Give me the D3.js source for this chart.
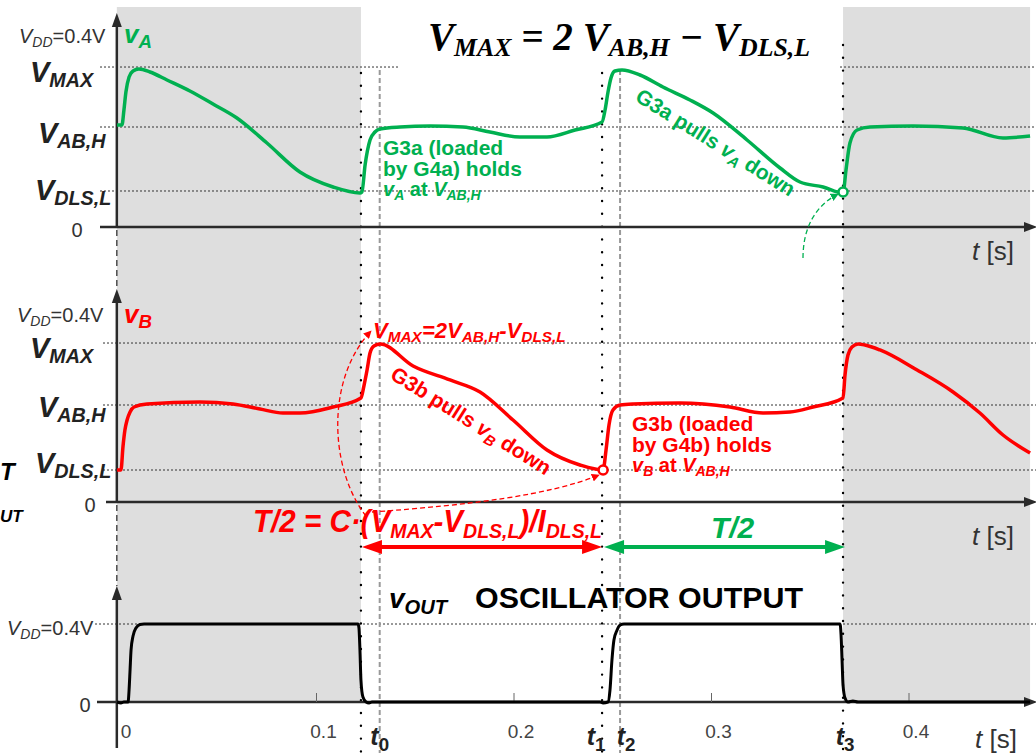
<!DOCTYPE html>
<html>
<head>
<meta charset="utf-8">
<script src="https://cdn.jsdelivr.net/npm/d3@7"></script>
<style>
  html, body { margin: 0; padding: 0; background: #fff; overflow: hidden; }
  svg { display: block; }
</style>
</head>
<body>
<svg id="chart" width="1036" height="753"></svg>
<script>
// time axis (s)
const xTicks = [0.1, 0.2, 0.3, 0.4];
const xTickLabels = ['0', '0.1', '0.2', '0.3', '0.4'];
const xTickValues = [0, 0.1, 0.2, 0.3, 0.4];

// switching instants and marked instants
const tSwitch = [0.1225, 0.2446, 0.3666];
const tMarks = [0.132, 0.2537];
const tNames = ['0', '1', '2', '3'];
const tNamed = [0.132, 0.2446, 0.2537, 0.3666];
const shaded = [[-0.0011, 0.1225], [0.3666, 0.4613]];

// voltage levels (V)
const vdd = 0.4;
const levelNames = ['MAX', 'AB,H', 'DLS,L'];
const levelsA = [0.3368, 0.2105, 0.0758];
const levelsB = [0.3419, 0.2086, 0.0688];

// v_A waveform
const tA = [-0.001, 0.0015, 0.0025, 0.0035, 0.0051, 0.0071, 0.0101, 0.0157, 0.0243, 0.0359,
  0.0476, 0.0597, 0.0749, 0.0916, 0.1084, 0.122, 0.123, 0.1246, 0.1271, 0.1296,
  0.1322, 0.1423, 0.1575, 0.1742, 0.1878, 0.203, 0.2167, 0.2309, 0.2446, 0.2461,
  0.2476, 0.2491, 0.2511, 0.2547, 0.2638, 0.2754, 0.2891, 0.3008, 0.318, 0.3347,
  0.3448, 0.3565, 0.3666, 0.3681, 0.3701, 0.3737, 0.3803, 0.402, 0.4273, 0.4476, 0.4613];
const vA = [0.2147, 0.2147, 0.2463, 0.2842, 0.3158, 0.3284, 0.3326, 0.3263, 0.3095, 0.2863,
  0.2589, 0.2295, 0.1768, 0.1158, 0.0842, 0.0716, 0.0737, 0.1305, 0.1832, 0.2,
  0.2063, 0.2105, 0.2126, 0.2105, 0.2, 0.1895, 0.1895, 0.2042, 0.2211, 0.2463,
  0.2842, 0.3137, 0.3284, 0.3305, 0.32, 0.2947, 0.2674, 0.24, 0.1832, 0.1242,
  0.0947, 0.0842, 0.0716, 0.12, 0.1768, 0.2042, 0.2105, 0.2126, 0.2084, 0.1874, 0.1916];

// v_B waveform
const tB = [-0.001, 0.001, 0.002, 0.003, 0.0041, 0.0056, 0.0076, 0.0142, 0.041, 0.0577,
  0.0714, 0.083, 0.0916, 0.1084, 0.1225, 0.1241, 0.1256, 0.1271, 0.1291, 0.1322,
  0.1489, 0.1676, 0.1828, 0.1995, 0.2167, 0.2334, 0.2451, 0.2466, 0.2481, 0.2501,
  0.2537, 0.2603, 0.284, 0.3094, 0.3261, 0.3397, 0.3514, 0.3666, 0.3676, 0.3691,
  0.3711, 0.3742, 0.3777, 0.3853, 0.4041, 0.4223, 0.4359, 0.4476, 0.4613];
const vB = [0.0688, 0.0688, 0.1183, 0.1548, 0.1763, 0.1935, 0.2043, 0.2108, 0.2151, 0.2108,
  0.2, 0.1914, 0.1914, 0.2043, 0.2237, 0.2516, 0.2839, 0.3204, 0.3355, 0.3398,
  0.2925, 0.2624, 0.2366, 0.1763, 0.1118, 0.0796, 0.0688, 0.1118, 0.1656, 0.1978,
  0.2086, 0.2108, 0.2129, 0.2043, 0.1914, 0.1935, 0.2043, 0.2237, 0.2731, 0.3161,
  0.3333, 0.3398, 0.3376, 0.3269, 0.2839, 0.2366, 0.1914, 0.1441, 0.1054];

// v_OUT waveform
const tOut = [-0.001, 0.001, 0.0025, 0.0046, 0.0051, 0.0056, 0.0061, 0.0071, 0.0086, 0.0106,
  0.0127, 0.121, 0.1215, 0.122, 0.1225, 0.1235, 0.1251, 0.1266, 0.1281, 0.2435,
  0.2451, 0.2476, 0.2486, 0.2496, 0.2506, 0.2522, 0.2537, 0.2557, 0.3651, 0.3656,
  0.3661, 0.3666, 0.3676, 0.3691, 0.3716, 0.3742, 0.4613];
const vOut = [0, -0.005, 0, 0, 0.0615, 0.1641, 0.2667, 0.3385, 0.3795, 0.3974,
  0.4, 0.4, 0.3795, 0.2667, 0.1128, 0.0256, 0, -0.005, 0, 0,
  -0.005, 0, 0.0615, 0.2154, 0.3179, 0.3692, 0.3949, 0.4, 0.4, 0.3436,
  0.2154, 0.0872, 0.0205, 0, 0.005, 0, 0];

const SANS = "'Liberation Sans', Arial, sans-serif";
const SERIF = "'Liberation Serif', 'Times New Roman', serif";
const GREEN = '#00b050', RED = '#ff0000', AXIS = '#2a2a2a', LABEL = '#333';

const svg = d3.select('#chart');
const x = d3.scaleLinear().domain([0, 0.4]).range([119, 909]);
const yA = d3.scaleLinear().domain([0, 0.4]).range([227, 37]);
const yB = d3.scaleLinear().domain([0, 0.4]).range([502, 316]);
const yC = d3.scaleLinear().domain([0, 0.4]).range([702, 624]);

// text with subscripts: parts = [[text, flags]], flags: s=sub, i=italic, n=upright, r=regular weight
function rich(parent, px, py, parts, o) {
  const t = parent.append('text')
    .attr('x', px).attr('y', py)
    .attr('font-family', o.font || SANS)
    .attr('font-size', o.size)
    .attr('font-weight', o.weight || 'bold')
    .attr('font-style', o.italic ? 'italic' : 'normal')
    .attr('fill', o.color || '#000')
    .attr('text-anchor', o.anchor || 'start');
  if (o.rotate) t.attr('transform', `rotate(${o.rotate},${px},${py})`);
  if (o.len) t.attr('textLength', o.len).attr('lengthAdjust', 'spacingAndGlyphs');
  let shift = 0;
  parts.forEach(p => {
    const f = p[1] || '';
    const sub = f.includes('s');
    const target = sub ? o.size * (o.subDy || 0.2) : 0;
    const sp = t.append('tspan').text(p[0]).attr('dy', target - shift);
    shift = target;
    if (sub) sp.attr('font-size', o.size * (o.subScale || 0.68));
    if (f.includes('i')) sp.attr('font-style', 'italic');
    if (f.includes('n')) sp.attr('font-style', 'normal');
    if (f.includes('r')) sp.attr('font-weight', 'normal');
  });
  return t;
}

// shaded half periods
svg.append('g').selectAll('rect')
  .data(shaded)
  .enter()
  .append('rect')
  .attr('x', d => x(d[0]))
  .attr('width', d => x(d[1]) - x(d[0]))
  .attr('y', 7)
  .attr('height', yC(0) - 7)
  .attr('fill', '#dedede');

// markers
const defs = svg.append('defs');
[['headG', GREEN], ['headR', RED]].forEach(([id, c]) => {
  defs.append('marker').attr('id', id)
    .attr('viewBox', '0 0 10 10').attr('refX', 9).attr('refY', 5)
    .attr('markerWidth', 8).attr('markerHeight', 8)
    .attr('markerUnits', 'userSpaceOnUse')
    .attr('orient', 'auto')
    .append('path').attr('d', 'M0,0 L10,5 L0,10 Z').attr('fill', c);
});

// horizontal level guides
const guides = svg.append('g')
  .attr('stroke', '#333').attr('stroke-width', 1).attr('stroke-dasharray', '2,2');
levelsA.forEach((v, i) => {
  const segs = i === 0 ? [[100, 400], [840, 1036]] : [[100, 1036]];
  segs.forEach(s => guides.append('line')
    .attr('x1', s[0]).attr('x2', s[1]).attr('y1', yA(v)).attr('y2', yA(v)));
});
levelsB.forEach(v => guides.append('line')
  .attr('x1', 103).attr('x2', 1036).attr('y1', yB(v)).attr('y2', yB(v)));
guides.append('line')
  .attr('x1', 95).attr('x2', 1036).attr('y1', yC(vdd)).attr('y2', yC(vdd));

// vertical time markers
svg.append('g').selectAll('line')
  .data(tSwitch)
  .enter()
  .append('line')
  .attr('x1', d => x(d)).attr('x2', d => x(d))
  .attr('y1', (d, i) => i === 2 ? 45 : 73).attr('y2', 753)
  .attr('stroke', '#000').attr('stroke-width', 2.4)
  .attr('stroke-linecap', 'round').attr('stroke-dasharray', '0,12.8');

svg.append('g').selectAll('line')
  .data(tMarks)
  .enter()
  .append('line')
  .attr('x1', d => x(d)).attr('x2', d => x(d))
  .attr('y1', 70).attr('y2', 753)
  .attr('stroke', '#999').attr('stroke-width', 2)
  .attr('stroke-dasharray', '5,3');

// axes
function xAxisLine(y0, x0) {
  svg.append('line').attr('x1', x0).attr('x2', 1028).attr('y1', y0).attr('y2', y0)
    .attr('stroke', AXIS).attr('stroke-width', 2.5);
  svg.append('path').attr('d', `M1037,${y0} L1024,${y0 - 5} L1024,${y0 + 5} Z`).attr('fill', AXIS);
}
function yAxisLine(top, bottom) {
  const ax = x(-0.0011);
  svg.append('line').attr('x1', ax).attr('x2', ax).attr('y1', top + 10).attr('y2', bottom)
    .attr('stroke', AXIS).attr('stroke-width', 2.5);
  svg.append('path').attr('d', `M${ax},${top} L${ax - 5},${top + 14} L${ax + 5},${top + 14} Z`).attr('fill', AXIS);
}
function dashLink(top, bottom) {
  const ax = x(-0.0011);
  svg.append('line').attr('x1', ax).attr('x2', ax).attr('y1', top).attr('y2', bottom)
    .attr('stroke', '#333').attr('stroke-width', 1.3).attr('stroke-dasharray', '6,4');
}
yAxisLine(13, yA(0));
dashLink(yA(0) + 3, 289);
yAxisLine(289, yB(0));
dashLink(yB(0) + 3, 586);
yAxisLine(586, 748);
xAxisLine(yA(0), 100);
xAxisLine(yB(0), 106);
xAxisLine(yC(0), 97);

// x ticks on the output panel
svg.append('g').selectAll('line')
  .data(xTicks)
  .enter()
  .append('line')
  .attr('x1', d => x(d)).attr('x2', d => x(d))
  .attr('y1', yC(0)).attr('y2', yC(0) - 9)
  .attr('stroke', '#666').attr('stroke-width', 1);

svg.append('g').selectAll('text')
  .data(xTickValues)
  .enter()
  .append('text')
  .attr('x', d => x(d) + 7)
  .attr('y', 738)
  .attr('text-anchor', 'middle')
  .attr('font-family', SANS).attr('font-size', 19).attr('fill', '#444')
  .text((d, i) => xTickLabels[i]);

// waveforms
const lineA = d3.line().x(d => x(d[0])).y(d => yA(d[1])).curve(d3.curveMonotoneX);
const lineB = d3.line().x(d => x(d[0])).y(d => yB(d[1])).curve(d3.curveMonotoneX);
const lineC = d3.line().x(d => x(d[0])).y(d => yC(d[1])).curve(d3.curveMonotoneX);

svg.append('path').datum(d3.zip(tA, vA)).attr('d', lineA)
  .attr('fill', 'none').attr('stroke', GREEN).attr('stroke-width', 3.5).attr('stroke-linejoin', 'round');
svg.append('path').datum(d3.zip(tB, vB)).attr('d', lineB)
  .attr('fill', 'none').attr('stroke', RED).attr('stroke-width', 3.5).attr('stroke-linejoin', 'round');
svg.append('path').datum(d3.zip(tOut, vOut)).attr('d', lineC)
  .attr('fill', 'none').attr('stroke', '#000').attr('stroke-width', 3).attr('stroke-linejoin', 'round');

// y labels
const levelOffA = [15, 16, 9];
const levelOffB = [15, 12, 3];
const levelX = [30, 38, 35];
levelNames.forEach((n, i) => {
  rich(svg, levelX[i], yA(levelsA[i]) + levelOffA[i], [['V'], [n, 's']],
    { size: 29, italic: true, color: '#222', subScale: 0.68, subDy: 0.16 });
  rich(svg, levelX[i], yB(levelsB[i]) + levelOffB[i], [['V'], [n, 's']],
    { size: 29, italic: true, color: '#222', subScale: 0.68, subDy: 0.16 });
});
const vddParts = [['V', 'i'], ['DD', 'is'], ['=0.4V']];
rich(svg, 19, 43, vddParts, { size: 20, weight: 'normal', color: LABEL, subScale: 0.7, subDy: 0.22 });
rich(svg, 17, 322, vddParts, { size: 20, weight: 'normal', color: LABEL, subScale: 0.7, subDy: 0.22 });
rich(svg, 7, 635, vddParts, { size: 20, weight: 'normal', color: LABEL, subScale: 0.7, subDy: 0.22 });
[[77, 237], [90, 512], [85, 712]].forEach(p => svg.append('text')
  .attr('x', p[0]).attr('y', p[1]).attr('text-anchor', 'middle')
  .attr('font-family', SANS).attr('font-size', 20).attr('fill', LABEL).text('0'));

// t [s]
[[972, 260], [972, 545], [975, 748]].forEach(p =>
  rich(svg, p[0], p[1], [['t', 'i'], [' [s]']], { size: 26, weight: 'normal', color: LABEL }));

// t0..t3
tNamed.forEach((t, i) => {
  const off = [0, -6, 6, 2][i];
  rich(svg, x(t) + off, 745, [['t'], [tNames[i], 'ns']],
    { size: 25, italic: true, color: '#222', anchor: 'middle', subScale: 0.75, subDy: 0.22 });
});

// signal names
rich(svg, 124, 43, [['v'], ['A', 's']], { size: 26, italic: true, color: GREEN, subScale: 0.72, subDy: 0.2 });
rich(svg, 124, 323, [['v'], ['B', 's']], { size: 26, italic: true, color: RED, subScale: 0.72, subDy: 0.2 });
rich(svg, 389, 608, [['v'], ['OUT', 's']], { size: 28, italic: true, color: '#000', subScale: 0.72, subDy: 0.2 });
svg.append('text').attr('x', 475).attr('y', 608)
  .attr('font-family', SANS).attr('font-size', 29).attr('font-weight', 'bold')
  .attr('textLength', 328).attr('lengthAdjust', 'spacingAndGlyphs').text('OSCILLATOR OUTPUT');

// fragments at the left edge
svg.append('text').attr('x', 0).attr('y', 480).attr('font-family', SANS).attr('font-size', 24)
  .attr('font-weight', 'bold').attr('font-style', 'italic').text('T');
svg.append('text').attr('x', 0).attr('y', 522).attr('font-family', SANS).attr('font-size', 17)
  .attr('font-weight', 'bold').attr('font-style', 'italic').text('UT');

// title equation
rich(svg, 428, 50, [['V'], ['MAX', 's'], [' = 2 '], ['V'], ['AB,H', 's'], [' \u2212 '], ['V'], ['DLS,L', 's']],
  { size: 39, italic: true, font: SERIF, color: '#000', subScale: 0.66, subDy: 0.16, len: 382 });

// green annotations
rich(svg, 383, 155, [['G3a (loaded']], { size: 21, color: GREEN });
rich(svg, 383, 176, [['by G4a) holds']], { size: 21, color: GREEN });
rich(svg, 383, 196, [['v', 'i'], ['A', 'is'], [' at '], ['V', 'i'], ['AB,H', 'is']],
  { size: 20, color: GREEN, subScale: 0.7, subDy: 0.22 });
rich(svg, 634, 100, [['G3a pulls '], ['v', 'i'], ['A', 'is'], [' down']],
  { size: 21, color: GREEN, rotate: 32, subScale: 0.7, subDy: 0.22 });

// red annotations
rich(svg, 373, 338, [['V'], ['MAX', 's'], ['=2V'], ['AB,H', 's'], ['-V'], ['DLS,L', 's']],
  { size: 22, italic: true, color: RED, subScale: 0.7, subDy: 0.2 });
rich(svg, 389, 378, [['G3b pulls '], ['v', 'i'], ['B', 'is'], [' down']],
  { size: 21, color: RED, rotate: 32, subScale: 0.7, subDy: 0.22 });
rich(svg, 632, 431, [['G3b (loaded']], { size: 21, color: RED });
rich(svg, 632, 452, [['by G4b) holds']], { size: 21, color: RED });
rich(svg, 632, 472, [['v', 'i'], ['B', 'is'], [' at '], ['V', 'i'], ['AB,H', 'is']],
  { size: 20, color: RED, subScale: 0.7, subDy: 0.22 });
rich(svg, 253, 532, [['T/2 = C\u00b7('], ['V'], ['MAX', 's'], ['-V'], ['DLS,L', 's'], [')/I'], ['DLS,L', 's']],
  { size: 31, italic: true, color: RED, subScale: 0.66, subDy: 0.18, len: 349 });
rich(svg, x((tSwitch[1] + tSwitch[2]) / 2) + 10, 538, [['T/2']],
  { size: 30, italic: true, color: GREEN, anchor: 'middle' });

// dashed pointer arrows
svg.append('path')
  .attr('d', 'M803,258 C803,228 815,206 838,194')
  .attr('fill', 'none').attr('stroke', GREEN).attr('stroke-width', 1.3)
  .attr('stroke-dasharray', '5,3').attr('marker-end', 'url(#headG)');
svg.append('path')
  .attr('d', 'M366,516 C330,470 325,380 371,331')
  .attr('fill', 'none').attr('stroke', RED).attr('stroke-width', 1.3)
  .attr('stroke-dasharray', '5,3').attr('marker-end', 'url(#headR)');
svg.append('path')
  .attr('d', 'M372,512 C470,505 550,495 599,475')
  .attr('fill', 'none').attr('stroke', RED).attr('stroke-width', 1.3)
  .attr('stroke-dasharray', '5,3').attr('marker-end', 'url(#headR)');

// end-point circles
svg.append('circle').attr('cx', x(tSwitch[2])).attr('cy', yA(levelsA[2]) + 1).attr('r', 4.5)
  .attr('fill', '#fff').attr('stroke', GREEN).attr('stroke-width', 2.5);
svg.append('circle').attr('cx', x(tSwitch[1]) + 1).attr('cy', yB(levelsB[2])).attr('r', 4.5)
  .attr('fill', '#fff').attr('stroke', RED).attr('stroke-width', 2.5);

// half-period double arrows
function dblArrow(x1, x2, y0, c) {
  const L = 20, H = 7;
  svg.append('line').attr('x1', x1 + L - 2).attr('x2', x2 - L + 2).attr('y1', y0).attr('y2', y0)
    .attr('stroke', c).attr('stroke-width', 4);
  svg.append('path').attr('d', `M${x1},${y0} L${x1 + L},${y0 - H} L${x1 + L},${y0 + H} Z`).attr('fill', c);
  svg.append('path').attr('d', `M${x2},${y0} L${x2 - L},${y0 - H} L${x2 - L},${y0 + H} Z`).attr('fill', c);
}
dblArrow(x(tSwitch[0]) + 1, x(tSwitch[1]), 547, RED);
dblArrow(x(tSwitch[1]) + 2, x(tSwitch[2]) + 2, 547, GREEN);
</script>
</body>
</html>
